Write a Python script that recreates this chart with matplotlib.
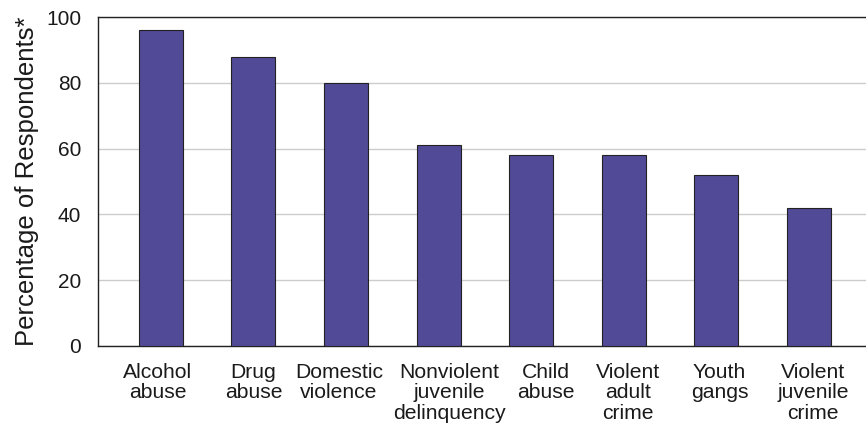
import matplotlib
matplotlib.use("Agg")
import matplotlib.pyplot as plt
from matplotlib.transforms import ScaledTranslation

categories = ["Alcohol\nabuse", "Drug\nabuse", "Domestic\nviolence",
              "Nonviolent\njuvenile\ndelinquency", "Child\nabuse",
              "Violent\nadult\ncrime", "Youth\ngangs", "Violent\njuvenile\ncrime"]
values = [96, 88, 80, 61, 58, 58, 52, 42]
yticks = [0, 20, 40, 60, 80, 100]

plt.rcParams["font.family"] = ["Liberation Sans", "DejaVu Sans"]

fig = plt.figure(figsize=(8.66, 4.26), dpi=100)
ax = fig.add_axes([0.113, 0.188, 0.894, 0.772])

x = range(len(values))
ax.bar(x, values, width=0.475, color="#514a96", edgecolor="#222222", linewidth=0.8, zorder=3)

ax.set_xlim(-0.68, len(values) - 0.32)
ax.set_ylim(0, 100)
ax.set_yticks(yticks)
ax.set_xticks(list(x))
ax.set_xticklabels(categories, fontsize=15.2, linespacing=1.12, color="#1a1a1a")
ax.tick_params(axis="y", length=0, pad=12, labelsize=15, labelcolor="#1a1a1a")
ax.tick_params(axis="x", length=0, pad=12)
ax.yaxis.grid(True, color="#cccccc", linewidth=1, zorder=0)
ax.set_axisbelow(True)

# labels in the original are nudged a little off the bar centres
nudge = [-3, 0, -7, 11, 15, 4, 3, 4]
for lab, dx in zip(ax.get_xticklabels(), nudge):
    lab.set_transform(lab.get_transform() + ScaledTranslation(dx / 100, 0, fig.dpi_scale_trans))

for s in ("top", "left", "bottom"):
    ax.spines[s].set_color("#222222")
    ax.spines[s].set_linewidth(1)
ax.spines["right"].set_visible(False)

ax.set_ylabel("Percentage of Respondents*", fontsize=18.5, labelpad=5, color="#1a1a1a")

fig.savefig("out.png", dpi=100)
